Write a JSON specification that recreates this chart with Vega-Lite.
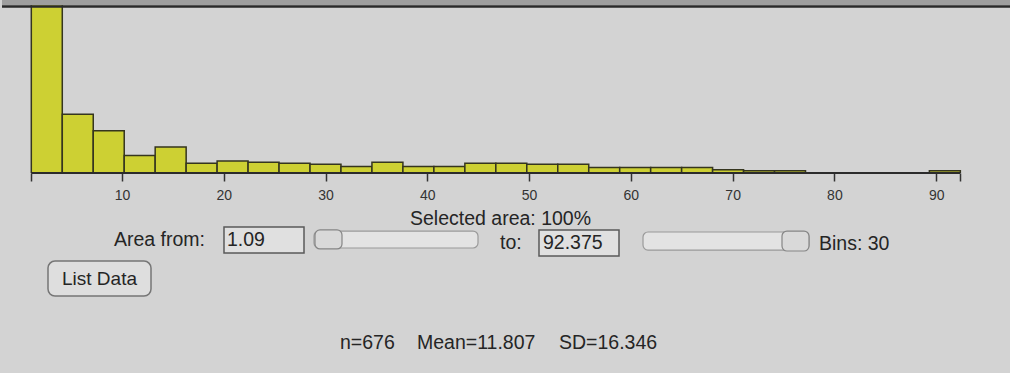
{
  "$schema": "https://vega.github.io/schema/vega-lite/v6.json",
  "background": "#d3d3d3",
  "padding": 0,
  "spacing": 0,
  "config": {
    "view": {"stroke": null},
    "font": "Liberation Sans",
    "text": {"font": "Liberation Sans", "fontSize": 19.5, "color": "#252525", "baseline": "alphabetic"}
  },
  "data": {"values": [{}]},
  "datasets": {
    "bins": [
      {"bin_start": 1.090, "bin_end": 4.133, "count": 405},
      {"bin_start": 4.133, "bin_end": 7.176, "count": 54},
      {"bin_start": 7.176, "bin_end": 10.219, "count": 39},
      {"bin_start": 10.219, "bin_end": 13.261, "count": 16},
      {"bin_start": 13.261, "bin_end": 16.304, "count": 24},
      {"bin_start": 16.304, "bin_end": 19.347, "count": 9},
      {"bin_start": 19.347, "bin_end": 22.390, "count": 11},
      {"bin_start": 22.390, "bin_end": 25.433, "count": 10},
      {"bin_start": 25.433, "bin_end": 28.476, "count": 9},
      {"bin_start": 28.476, "bin_end": 31.518, "count": 8},
      {"bin_start": 31.518, "bin_end": 34.561, "count": 6},
      {"bin_start": 34.561, "bin_end": 37.604, "count": 10},
      {"bin_start": 37.604, "bin_end": 40.647, "count": 6},
      {"bin_start": 40.647, "bin_end": 43.690, "count": 6},
      {"bin_start": 43.690, "bin_end": 46.733, "count": 9},
      {"bin_start": 46.733, "bin_end": 49.775, "count": 9},
      {"bin_start": 49.775, "bin_end": 52.818, "count": 8},
      {"bin_start": 52.818, "bin_end": 55.861, "count": 8},
      {"bin_start": 55.861, "bin_end": 58.904, "count": 5},
      {"bin_start": 58.904, "bin_end": 61.947, "count": 5},
      {"bin_start": 61.947, "bin_end": 64.989, "count": 5},
      {"bin_start": 64.989, "bin_end": 68.032, "count": 5},
      {"bin_start": 68.032, "bin_end": 71.075, "count": 3},
      {"bin_start": 71.075, "bin_end": 74.118, "count": 2},
      {"bin_start": 74.118, "bin_end": 77.161, "count": 2},
      {"bin_start": 77.161, "bin_end": 80.204, "count": 0},
      {"bin_start": 80.204, "bin_end": 83.246, "count": 0},
      {"bin_start": 83.246, "bin_end": 86.289, "count": 0},
      {"bin_start": 86.289, "bin_end": 89.332, "count": 0},
      {"bin_start": 89.332, "bin_end": 92.375, "count": 2}
    ]
  },
  "resolve": {"scale": {"x": "independent", "y": "independent"}},
  "vconcat": [
    {
      "width": 1010,
      "height": 173,
      "layer": [
        {
          "data": {"name": "bins"},
          "mark": {"type": "rect", "fill": "#cdd033", "stroke": "#35351f", "strokeWidth": 1.5, "clip": true},
          "encoding": {
            "x": {
              "field": "bin_start", "type": "quantitative",
              "scale": {"domain": [-1.79, 97.45], "nice": false, "zero": false},
              "axis": {
                "title": null, "domain": false, "grid": false,
                "values": [1.09, 10, 20, 30, 40, 50, 60, 70, 80, 90, 92.375],
                "tickSize": 8, "tickWidth": 1.5, "tickColor": "#333333",
                "labelExpr": "datum.value >= 10 && datum.value <= 90 ? format(datum.value, 'd') : ''",
                "labelFont": "Liberation Sans", "labelFontSize": 14, "labelColor": "#333333",
                "labelPadding": 7, "labelOverlap": false, "labelFlush": false
              }
            },
            "x2": {"field": "bin_end"},
            "y": {
              "field": "count", "type": "quantitative",
              "scale": {"domain": [0, 159.3], "nice": false},
              "axis": null
            },
            "y2": {"datum": 0}
          }
        },
        {
          "mark": {"type": "rule", "color": "#2b2b2b", "strokeWidth": 2},
          "encoding": {
            "x": {"datum": 1.09, "type": "quantitative"},
            "x2": {"datum": 92.375},
            "y": {"datum": 0, "type": "quantitative"}
          }
        },
        {
          "mark": {"type": "rect", "color": "#9e9e9e"},
          "encoding": {
            "x": {"datum": -1.79, "type": "quantitative"},
            "x2": {"datum": 97.45},
            "y": {"datum": 154.4, "type": "quantitative"},
            "y2": {"datum": 159.3}
          }
        },
        {
          "mark": {"type": "rule", "color": "#2a2a2a", "strokeWidth": 2.5},
          "encoding": {
            "x": {"datum": -1.79, "type": "quantitative"},
            "x2": {"datum": 97.45},
            "y": {"datum": 153.2, "type": "quantitative"}
          }
        }
      ]
    },
    {
      "width": 1010,
      "height": 171,
      "layer": [
        {
          "mark": {"type": "text", "align": "center", "text": "Selected area: 100%"},
          "encoding": {
            "x": {"datum": 49.85, "type": "quantitative", "scale": {"domain": [0, 101], "nice": false}, "axis": null},
            "y": {"datum": 1.21, "type": "quantitative", "scale": {"domain": [0, 9], "nice": false, "reverse": true}, "axis": null}
          }
        },
        {
          "mark": {"type": "text", "align": "left", "text": "Area from:"},
          "encoding": {
            "x": {"datum": 11.2, "type": "quantitative", "scale": {"domain": [0, 101], "nice": false}, "axis": null},
            "y": {"datum": 2.32, "type": "quantitative", "scale": {"domain": [0, 9], "nice": false, "reverse": true}, "axis": null}
          }
        },
        {
          "mark": {"type": "rect", "fill": "#e0e0e0", "stroke": "#5a5a5a", "strokeWidth": 1.5},
          "encoding": {
            "x": {"datum": 22.2, "type": "quantitative", "scale": {"domain": [0, 101], "nice": false}, "axis": null},
            "x2": {"datum": 30.2},
            "y": {"datum": 1.32, "type": "quantitative", "scale": {"domain": [0, 9], "nice": false, "reverse": true}, "axis": null},
            "y2": {"datum": 2.68}
          }
        },
        {
          "mark": {"type": "text", "align": "left", "text": "1.09"},
          "encoding": {
            "x": {"datum": 22.5, "type": "quantitative", "scale": {"domain": [0, 101], "nice": false}, "axis": null},
            "y": {"datum": 2.32, "type": "quantitative", "scale": {"domain": [0, 9], "nice": false, "reverse": true}, "axis": null}
          }
        },
        {
          "mark": {"type": "rect", "fill": "#e3e3e3", "stroke": "#9a9a9a", "strokeWidth": 1.2, "cornerRadius": 5},
          "encoding": {
            "x": {"datum": 31.2, "type": "quantitative", "scale": {"domain": [0, 101], "nice": false}, "axis": null},
            "x2": {"datum": 47.6},
            "y": {"datum": 1.53, "type": "quantitative", "scale": {"domain": [0, 9], "nice": false, "reverse": true}, "axis": null},
            "y2": {"datum": 2.42}
          }
        },
        {
          "mark": {"type": "rect", "fill": "#d9d9d9", "stroke": "#858585", "strokeWidth": 1.2, "cornerRadius": 5},
          "encoding": {
            "x": {"datum": 31.3, "type": "quantitative", "scale": {"domain": [0, 101], "nice": false}, "axis": null},
            "x2": {"datum": 34.0},
            "y": {"datum": 1.47, "type": "quantitative", "scale": {"domain": [0, 9], "nice": false, "reverse": true}, "axis": null},
            "y2": {"datum": 2.47}
          }
        },
        {
          "mark": {"type": "text", "align": "left", "text": "to:"},
          "encoding": {
            "x": {"datum": 49.8, "type": "quantitative", "scale": {"domain": [0, 101], "nice": false}, "axis": null},
            "y": {"datum": 2.47, "type": "quantitative", "scale": {"domain": [0, 9], "nice": false, "reverse": true}, "axis": null}
          }
        },
        {
          "mark": {"type": "rect", "fill": "#e0e0e0", "stroke": "#5a5a5a", "strokeWidth": 1.5},
          "encoding": {
            "x": {"datum": 53.7, "type": "quantitative", "scale": {"domain": [0, 101], "nice": false}, "axis": null},
            "x2": {"datum": 61.7},
            "y": {"datum": 1.47, "type": "quantitative", "scale": {"domain": [0, 9], "nice": false, "reverse": true}, "axis": null},
            "y2": {"datum": 2.84}
          }
        },
        {
          "mark": {"type": "text", "align": "left", "text": "92.375"},
          "encoding": {
            "x": {"datum": 54.1, "type": "quantitative", "scale": {"domain": [0, 101], "nice": false}, "axis": null},
            "y": {"datum": 2.47, "type": "quantitative", "scale": {"domain": [0, 9], "nice": false, "reverse": true}, "axis": null}
          }
        },
        {
          "mark": {"type": "rect", "fill": "#e3e3e3", "stroke": "#9a9a9a", "strokeWidth": 1.2, "cornerRadius": 5},
          "encoding": {
            "x": {"datum": 64.1, "type": "quantitative", "scale": {"domain": [0, 101], "nice": false}, "axis": null},
            "x2": {"datum": 80.7},
            "y": {"datum": 1.58, "type": "quantitative", "scale": {"domain": [0, 9], "nice": false, "reverse": true}, "axis": null},
            "y2": {"datum": 2.53}
          }
        },
        {
          "mark": {"type": "rect", "fill": "#d9d9d9", "stroke": "#858585", "strokeWidth": 1.2, "cornerRadius": 5},
          "encoding": {
            "x": {"datum": 78.0, "type": "quantitative", "scale": {"domain": [0, 101], "nice": false}, "axis": null},
            "x2": {"datum": 80.7},
            "y": {"datum": 1.53, "type": "quantitative", "scale": {"domain": [0, 9], "nice": false, "reverse": true}, "axis": null},
            "y2": {"datum": 2.58}
          }
        },
        {
          "mark": {"type": "text", "align": "left", "text": "Bins: 30"},
          "encoding": {
            "x": {"datum": 81.7, "type": "quantitative", "scale": {"domain": [0, 101], "nice": false}, "axis": null},
            "y": {"datum": 2.53, "type": "quantitative", "scale": {"domain": [0, 9], "nice": false, "reverse": true}, "axis": null}
          }
        },
        {
          "mark": {"type": "rect", "fill": "#dedede", "stroke": "#767676", "strokeWidth": 1.5, "cornerRadius": 7},
          "encoding": {
            "x": {"datum": 4.6, "type": "quantitative", "scale": {"domain": [0, 101], "nice": false}, "axis": null},
            "x2": {"datum": 14.9},
            "y": {"datum": 3.11, "type": "quantitative", "scale": {"domain": [0, 9], "nice": false, "reverse": true}, "axis": null},
            "y2": {"datum": 4.95}
          }
        },
        {
          "mark": {"type": "text", "align": "center", "text": "List Data", "fontSize": 19},
          "encoding": {
            "x": {"datum": 9.75, "type": "quantitative", "scale": {"domain": [0, 101], "nice": false}, "axis": null},
            "y": {"datum": 4.37, "type": "quantitative", "scale": {"domain": [0, 9], "nice": false, "reverse": true}, "axis": null}
          }
        },
        {
          "mark": {"type": "text", "align": "left", "text": "n=676"},
          "encoding": {
            "x": {"datum": 33.8, "type": "quantitative", "scale": {"domain": [0, 101], "nice": false}, "axis": null},
            "y": {"datum": 7.74, "type": "quantitative", "scale": {"domain": [0, 9], "nice": false, "reverse": true}, "axis": null}
          }
        },
        {
          "mark": {"type": "text", "align": "left", "text": "Mean=11.807"},
          "encoding": {
            "x": {"datum": 41.5, "type": "quantitative", "scale": {"domain": [0, 101], "nice": false}, "axis": null},
            "y": {"datum": 7.74, "type": "quantitative", "scale": {"domain": [0, 9], "nice": false, "reverse": true}, "axis": null}
          }
        },
        {
          "mark": {"type": "text", "align": "left", "text": "SD=16.346"},
          "encoding": {
            "x": {"datum": 55.7, "type": "quantitative", "scale": {"domain": [0, 101], "nice": false}, "axis": null},
            "y": {"datum": 7.74, "type": "quantitative", "scale": {"domain": [0, 9], "nice": false, "reverse": true}, "axis": null}
          }
        }
      ]
    }
  ]
}
